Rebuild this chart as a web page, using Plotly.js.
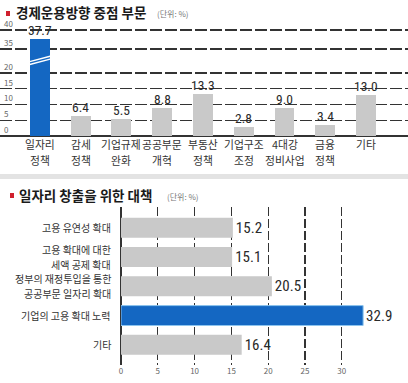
<!DOCTYPE html>
<html><head><meta charset="utf-8">
<script src="https://cdn.plot.ly/plotly-3.0.1.min.js"></script>
<style>html,body{margin:0;padding:0;background:#fff}#c{width:408px;height:383px}</style>
</head><body><div id="c"></div>
<script>
// ---- data ----
const cats1 = ['일자리<br>정책','감세<br>정책','기업규제<br>완화','공공부문<br>개혁','부동산<br>정책','기업구조<br>조정','4대강<br>정비사업','금융<br>정책','기타'];
const vals1 = [37.7, 6.4, 5.5, 8.8, 13.3, 2.8, 9.0, 3.4, 13.0];
const ticks1 = [0, 5, 10, 15, 20, 35, 40];
const cats2 = ['고용 유연성 확대','고용 확대에 대한<br>세액 공제 확대','정부의 재정투입을 통한<br>공공부문 일자리 확대','기업의 고용 확대 노력','기타'];
const vals2 = [15.2, 15.1, 20.5, 32.9, 16.4];
const ticks2 = [0, 5, 10, 15, 20, 25, 30];
const hi1 = 0, hi2 = 3;

// broken axis: the 20..35 gap is compressed
const brk = v => v <= 20 ? v : 27.6 + (v - 35) * 1.2;

const BLUE = '#1467c2', GRAY = '#c9c9c9', DARK = '#2a2a2a';
const FONT = '"Noto Sans CJK KR", "Noto Sans", sans-serif';
const NUM = '"Liberation Sans Narrow", "Roboto Condensed", "Liberation Sans", sans-serif';

const t1 = {
  type: 'bar', x: cats1, y: vals1.map(brk), xaxis: 'x', yaxis: 'y',
  width: 0.49,
  marker: {color: vals1.map((v,i)=> i===hi1 ? BLUE : GRAY), line:{width:0}},
  hoverinfo: 'skip'
};
const t2 = {
  type: 'bar', orientation: 'h', y: cats2, x: vals2, xaxis: 'x2', yaxis: 'y2',
  width: 0.68,
  marker: {color: vals2.map((v,i)=> i===hi2 ? BLUE : GRAY),
           line:{width: vals2.map((v,i)=> i===hi2 ? 1 : 0), color:'#8cc4ee'}},
  text: vals2.map(v=>v.toFixed(1)), textposition: 'outside', cliponaxis: false,
  constraintext: 'none',
  textfont: {size: 15, color: DARK, family: NUM},
  hoverinfo: 'skip'
};

const H = 383;
const py = px => (H - px) / H;

// upper chart value labels
const valAnn = vals1.map((v, i) => ({xref:'x', yref:'y', x:cats1[i], y:brk(v),
  xanchor:'center', yanchor:'bottom', yshift:-1, text:v.toFixed(1), showarrow:false,
  font:{size:13.5, color:DARK, family:NUM}}));

// upper chart y tick labels (sit just above their gridlines)
const tickAnn = ticks1.map(t => ({xref:'paper', yref:'y', x:2/408, y:brk(t), xanchor:'left',
  yanchor:'bottom', yshift:-1, text:String(t), showarrow:false,
  font:{size:8, color:'#666', family:FONT}}));

// upper chart category labels, one annotation per line
const xcatAnn = [];
cats1.forEach(c => c.split('<br>').forEach((ln, j) => xcatAnn.push({
  xref:'x', yref:'paper', x:c, y:py(144 + j * 15.7), xanchor:'center', yanchor:'middle',
  text:ln, showarrow:false, font:{size:10.8, color:'#333', family:FONT}})));

// lower chart category labels, one annotation per line
const catAnn = [];
cats2.forEach(c => {
  const lines = c.split('<br>');
  lines.forEach((ln, j) => catAnn.push({
    xref:'paper', yref:'y2', x:113/408, y:c, xanchor:'right', yanchor:'middle',
    yshift: (lines.length - 1) * 7.3 - j * 14.6, text:ln, showarrow:false,
    font:{size:10, color:'#333', family:FONT}}));
});

const layout = {
  width: 408, height: 383, margin: {l:0, r:0, t:0, b:0},
  paper_bgcolor: '#fff', plot_bgcolor: '#fff', showlegend: false,
  font: {family: FONT, color: DARK},
  bargap: 0,
  xaxis: {domain:[0,1], anchor:'y', range:[-0.98, 9.03], showgrid:false, showline:false,
          showticklabels:false, ticks:'', fixedrange:true},
  yaxis: {domain:[py(136), py(27.3)], anchor:'x', range:[0, 34.5],
          tickvals: ticks1.map(brk), showticklabels:false,
          showgrid:true, gridcolor:'#333', gridwidth:1.3, griddash:'12px,3px',
          zeroline:true, zerolinecolor:'#333', zerolinewidth:1.5, showline:false, fixedrange:true},
  xaxis2: {domain:[121/408, 1], anchor:'y2', range:[0, 39], tickvals: ticks2,
           tickfont:{size:8, color:'#666'}, showgrid:true, gridcolor:'#333', gridwidth:1.3,
           griddash:'9px,3px', zeroline:true, zerolinecolor:'#333', zerolinewidth:1.5,
           ticks:'', showline:false, fixedrange:true},
  yaxis2: {domain:[py(365), py(207)], anchor:'x2', range:[4.69, -0.71],
           showticklabels:false, ticks:'',
           showgrid:false, showline:false, fixedrange:true},
  shapes: [
    {type:'rect', xref:'paper', yref:'paper', x0:0, x1:1, y0:py(179), y1:py(174),
     fillcolor:'#e3e3e3', line:{width:0}},
    {type:'rect', xref:'paper', yref:'paper', x0:6/408, x1:10/408, y0:py(16), y1:py(11),
     fillcolor:'#d0202e', line:{width:0}},
    {type:'rect', xref:'paper', yref:'paper', x0:10/408, x1:14/408, y0:py(198), y1:py(193),
     fillcolor:'#d0202e', line:{width:0}},
    {type:'line', xref:'x', yref:'y', x0:hi1-0.25, x1:hi1+0.25, y0:23.6, y1:25.3,
     line:{color:'#fff', width:1.5}},
    {type:'line', xref:'x', yref:'y', x0:hi1-0.25, x1:hi1+0.25, y0:22.7, y1:24.4,
     line:{color:'#fff', width:1.5}}
  ],
  annotations: [
    {xref:'paper', yref:'paper', x:14/408, y:py(12.5), xanchor:'left', yanchor:'middle',
     text:'<b>경제운용방향 중점 부문</b>', showarrow:false,
     font:{size:13.5, color:'#1a1a1a', family:FONT}},
    {xref:'paper', yref:'paper', x:155/408, y:py(14), xanchor:'left', yanchor:'middle',
     text:'(단위: %)', showarrow:false, font:{size:8, color:'#777', family:FONT}},
    {xref:'paper', yref:'paper', x:17/408, y:py(195), xanchor:'left', yanchor:'middle',
     text:'<b>일자리 창출을 위한 대책</b>', showarrow:false,
     font:{size:13.5, color:'#1a1a1a', family:FONT}},
    {xref:'paper', yref:'paper', x:165/408, y:py(196), xanchor:'left', yanchor:'middle',
     text:'(단위: %)', showarrow:false, font:{size:8, color:'#777', family:FONT}}
  ].concat(valAnn, tickAnn, xcatAnn, catAnn)
};

Plotly.newPlot('c', [t1, t2], layout, {staticPlot:true, displayModeBar:false});
</script>
</body></html>
